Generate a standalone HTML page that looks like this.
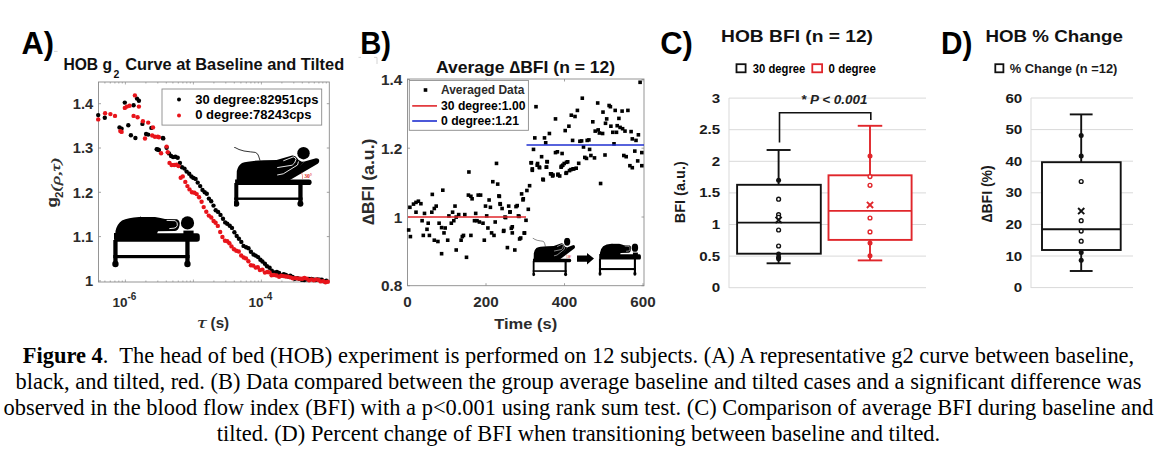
<!DOCTYPE html>
<html><head><meta charset="utf-8"><title>Figure 4</title>
<style>
html,body{margin:0;padding:0;background:#fff;}
body{width:1165px;height:451px;position:relative;overflow:hidden;font-family:"Liberation Sans",sans-serif;}
.cap{position:absolute;left:0;width:1157px;text-align:center;font-family:"Liberation Serif",serif;font-size:22.44px;line-height:26px;white-space:nowrap;color:#000;}
</style></head><body>
<svg width="1165" height="340" viewBox="0 0 1165 340" style="position:absolute;left:0;top:0;font-family:'Liberation Sans',sans-serif"><defs>
<symbol id="flat" viewBox="0 0 88 52" preserveAspectRatio="none">
 <path d="M3,23 L3.5,15 Q5,8 10,4.5 Q16,1.5 27,0.9 L43,0.9 Q49,2 53,3 L65,3.3 Q68.5,5 67.5,9.5 Q66.5,14.5 63,15 L46,15.3 L45,17.5 L3,23 Z" fill="#000"/>
 <path d="M54.6,4.4 L63.3,4.7 Q66,6.5 65.3,9.5 Q64.5,12 62,12.2 L57.3,12.6" fill="none" stroke="#fff" stroke-width="0.9"/>
 <circle cx="75.5" cy="6.9" r="6.6" fill="#000"/>
 <rect x="71.4" y="14.6" width="10.2" height="4" fill="#000"/>
 <path d="M2,17 L44.8,17 L45.5,17.2 L85,17.2 Q87.8,17.2 87.8,20.5 L87.8,23 Q87.8,25.7 85,25.7 L4,25.7 Q2,25.7 2,23 Z" fill="#000"/>
 <rect x="1.3" y="24" width="4.3" height="24" fill="#000"/>
 <rect x="73.3" y="24" width="4.3" height="24" fill="#000"/>
 <rect x="1.3" y="39" width="76.3" height="3.2" fill="#000"/>
 <circle cx="3.45" cy="48" r="3.2" fill="#000"/>
 <circle cx="75.45" cy="48" r="3.2" fill="#000"/>
 <path d="M26,-3 L28.5,0.5" stroke="#000" stroke-width="0.7"/>
</symbol>
<symbol id="tilt" viewBox="0 0 86 60" preserveAspectRatio="none">
 <path d="M0,0 Q5,3 10,4 Q17,5 21.3,5.4 Q24,6.5 24.6,9 L26,13.5" fill="none" stroke="#000" stroke-width="0.8"/>
 <path d="M2.6,33.5 L2.8,24 Q4,18.5 8,16 Q14,13.8 29.8,13.3 L42.6,12.9 L58.2,8.5 Q61.5,8.2 63,11 Q64,13.5 67.9,14.7 L70.4,14.6 L54.8,32.8 L44,33.5 Z" fill="#000"/>
 <path d="M49.3,13.8 L59.3,9.9 Q62,10.5 62,12.5 Q61,16.5 58.2,18.2 L43.2,20.6" fill="none" stroke="#fff" stroke-width="0.9"/>
 <path d="M43.2,28 L49.3,26.8 L63.5,18 L64.5,14.5" fill="none" stroke="#fff" stroke-width="0.9"/>
 <circle cx="69.5" cy="6.2" r="6.2" fill="#000"/>
 <path d="M52,33 L70.4,14.6 L82,11.3 Q85.5,11.5 85.2,14.3 Q85,16 83.7,16.8 L56,33 Z" fill="#000"/>
 <path d="M1.1,32.6 L54.8,32.6 L75,32.6 Q77.6,32.6 77.6,35.2 Q77.6,38 75,38 L3,38 Q1.1,38 1.1,35.5 Z" fill="#000"/>
 <rect x="0.3" y="36" width="4" height="21" fill="#000"/>
 <rect x="64.3" y="36" width="4.3" height="21" fill="#000"/>
 <rect x="0.3" y="50.5" width="68.3" height="2.4" fill="#000"/>
 <circle cx="2.3" cy="56.8" r="3" fill="#000"/>
 <circle cx="66.4" cy="56.8" r="3" fill="#000"/>
 <path d="M67.5,25.5 Q69,28.5 68.5,32" fill="none" stroke="#d33" stroke-width="0.5"/>
 <text x="70.2" y="31" font-size="5.6" fill="#d22" style="font-family:'Liberation Serif',serif;font-weight:bold">30°</text>
</symbol></defs><text x="21.6" y="54" font-size="31.8" font-weight="bold" fill="#000" textLength="32.4" lengthAdjust="spacingAndGlyphs">A)</text><text x="360.2" y="54" font-size="31.8" font-weight="bold" fill="#000" textLength="30.8" lengthAdjust="spacingAndGlyphs">B)</text><text x="660.2" y="54" font-size="31.8" font-weight="bold" fill="#000" textLength="32.6" lengthAdjust="spacingAndGlyphs">C)</text><text x="941.0" y="54" font-size="31.8" font-weight="bold" fill="#000" textLength="31.4" lengthAdjust="spacingAndGlyphs">D)</text><path d="M54,51.4 L57.6,51.4 M358.5,57.4 L361,57.4 M374,57.4 L377,57.4 L377,64" fill="none" stroke="#c8c8c8" stroke-width="0.8"/><rect x="98.5" y="82" width="230.8" height="200" fill="none" stroke="#8a8a8a" stroke-width="0.9"/><line x1="98.5" y1="103.7" x2="101.0" y2="103.7" stroke="#8a8a8a" stroke-width="0.8"/><line x1="329.3" y1="103.7" x2="326.8" y2="103.7" stroke="#8a8a8a" stroke-width="0.8"/><text x="93.2" y="108.9" text-anchor="end" font-size="14.7" font-weight="bold" fill="#2b2b2b">1.4</text><line x1="98.5" y1="148.0" x2="101.0" y2="148.0" stroke="#8a8a8a" stroke-width="0.8"/><line x1="329.3" y1="148.0" x2="326.8" y2="148.0" stroke="#8a8a8a" stroke-width="0.8"/><text x="93.2" y="153.2" text-anchor="end" font-size="14.7" font-weight="bold" fill="#2b2b2b">1.3</text><line x1="98.5" y1="192.3" x2="101.0" y2="192.3" stroke="#8a8a8a" stroke-width="0.8"/><line x1="329.3" y1="192.3" x2="326.8" y2="192.3" stroke="#8a8a8a" stroke-width="0.8"/><text x="93.2" y="197.5" text-anchor="end" font-size="14.7" font-weight="bold" fill="#2b2b2b">1.2</text><line x1="98.5" y1="236.6" x2="101.0" y2="236.6" stroke="#8a8a8a" stroke-width="0.8"/><line x1="329.3" y1="236.6" x2="326.8" y2="236.6" stroke="#8a8a8a" stroke-width="0.8"/><text x="93.2" y="241.8" text-anchor="end" font-size="14.7" font-weight="bold" fill="#2b2b2b">1.1</text><line x1="98.5" y1="280.9" x2="101.0" y2="280.9" stroke="#8a8a8a" stroke-width="0.8"/><line x1="329.3" y1="280.9" x2="326.8" y2="280.9" stroke="#8a8a8a" stroke-width="0.8"/><text x="93.2" y="286.1" text-anchor="end" font-size="14.7" font-weight="bold" fill="#2b2b2b">1</text><line x1="104.9" y1="282" x2="104.9" y2="280.5" stroke="#8a8a8a" stroke-width="0.7"/><line x1="104.9" y1="82" x2="104.9" y2="83.5" stroke="#8a8a8a" stroke-width="0.7"/><line x1="110.3" y1="282" x2="110.3" y2="280.5" stroke="#8a8a8a" stroke-width="0.7"/><line x1="110.3" y1="82" x2="110.3" y2="83.5" stroke="#8a8a8a" stroke-width="0.7"/><line x1="114.9" y1="282" x2="114.9" y2="280.5" stroke="#8a8a8a" stroke-width="0.7"/><line x1="114.9" y1="82" x2="114.9" y2="83.5" stroke="#8a8a8a" stroke-width="0.7"/><line x1="118.8" y1="282" x2="118.8" y2="280.5" stroke="#8a8a8a" stroke-width="0.7"/><line x1="118.8" y1="82" x2="118.8" y2="83.5" stroke="#8a8a8a" stroke-width="0.7"/><line x1="122.3" y1="282" x2="122.3" y2="280.5" stroke="#8a8a8a" stroke-width="0.7"/><line x1="122.3" y1="82" x2="122.3" y2="83.5" stroke="#8a8a8a" stroke-width="0.7"/><line x1="125.4" y1="282" x2="125.4" y2="279.5" stroke="#8a8a8a" stroke-width="0.7"/><line x1="125.4" y1="82" x2="125.4" y2="84.5" stroke="#8a8a8a" stroke-width="0.7"/><line x1="145.9" y1="282" x2="145.9" y2="280.5" stroke="#8a8a8a" stroke-width="0.7"/><line x1="145.9" y1="82" x2="145.9" y2="83.5" stroke="#8a8a8a" stroke-width="0.7"/><line x1="157.8" y1="282" x2="157.8" y2="280.5" stroke="#8a8a8a" stroke-width="0.7"/><line x1="157.8" y1="82" x2="157.8" y2="83.5" stroke="#8a8a8a" stroke-width="0.7"/><line x1="166.3" y1="282" x2="166.3" y2="280.5" stroke="#8a8a8a" stroke-width="0.7"/><line x1="166.3" y1="82" x2="166.3" y2="83.5" stroke="#8a8a8a" stroke-width="0.7"/><line x1="172.9" y1="282" x2="172.9" y2="280.5" stroke="#8a8a8a" stroke-width="0.7"/><line x1="172.9" y1="82" x2="172.9" y2="83.5" stroke="#8a8a8a" stroke-width="0.7"/><line x1="178.3" y1="282" x2="178.3" y2="280.5" stroke="#8a8a8a" stroke-width="0.7"/><line x1="178.3" y1="82" x2="178.3" y2="83.5" stroke="#8a8a8a" stroke-width="0.7"/><line x1="182.9" y1="282" x2="182.9" y2="280.5" stroke="#8a8a8a" stroke-width="0.7"/><line x1="182.9" y1="82" x2="182.9" y2="83.5" stroke="#8a8a8a" stroke-width="0.7"/><line x1="186.8" y1="282" x2="186.8" y2="280.5" stroke="#8a8a8a" stroke-width="0.7"/><line x1="186.8" y1="82" x2="186.8" y2="83.5" stroke="#8a8a8a" stroke-width="0.7"/><line x1="190.3" y1="282" x2="190.3" y2="280.5" stroke="#8a8a8a" stroke-width="0.7"/><line x1="190.3" y1="82" x2="190.3" y2="83.5" stroke="#8a8a8a" stroke-width="0.7"/><line x1="193.4" y1="282" x2="193.4" y2="279.5" stroke="#8a8a8a" stroke-width="0.7"/><line x1="193.4" y1="82" x2="193.4" y2="84.5" stroke="#8a8a8a" stroke-width="0.7"/><line x1="213.9" y1="282" x2="213.9" y2="280.5" stroke="#8a8a8a" stroke-width="0.7"/><line x1="213.9" y1="82" x2="213.9" y2="83.5" stroke="#8a8a8a" stroke-width="0.7"/><line x1="225.8" y1="282" x2="225.8" y2="280.5" stroke="#8a8a8a" stroke-width="0.7"/><line x1="225.8" y1="82" x2="225.8" y2="83.5" stroke="#8a8a8a" stroke-width="0.7"/><line x1="234.3" y1="282" x2="234.3" y2="280.5" stroke="#8a8a8a" stroke-width="0.7"/><line x1="234.3" y1="82" x2="234.3" y2="83.5" stroke="#8a8a8a" stroke-width="0.7"/><line x1="240.9" y1="282" x2="240.9" y2="280.5" stroke="#8a8a8a" stroke-width="0.7"/><line x1="240.9" y1="82" x2="240.9" y2="83.5" stroke="#8a8a8a" stroke-width="0.7"/><line x1="246.3" y1="282" x2="246.3" y2="280.5" stroke="#8a8a8a" stroke-width="0.7"/><line x1="246.3" y1="82" x2="246.3" y2="83.5" stroke="#8a8a8a" stroke-width="0.7"/><line x1="250.9" y1="282" x2="250.9" y2="280.5" stroke="#8a8a8a" stroke-width="0.7"/><line x1="250.9" y1="82" x2="250.9" y2="83.5" stroke="#8a8a8a" stroke-width="0.7"/><line x1="254.8" y1="282" x2="254.8" y2="280.5" stroke="#8a8a8a" stroke-width="0.7"/><line x1="254.8" y1="82" x2="254.8" y2="83.5" stroke="#8a8a8a" stroke-width="0.7"/><line x1="258.3" y1="282" x2="258.3" y2="280.5" stroke="#8a8a8a" stroke-width="0.7"/><line x1="258.3" y1="82" x2="258.3" y2="83.5" stroke="#8a8a8a" stroke-width="0.7"/><line x1="261.4" y1="282" x2="261.4" y2="279.5" stroke="#8a8a8a" stroke-width="0.7"/><line x1="261.4" y1="82" x2="261.4" y2="84.5" stroke="#8a8a8a" stroke-width="0.7"/><line x1="281.9" y1="282" x2="281.9" y2="280.5" stroke="#8a8a8a" stroke-width="0.7"/><line x1="281.9" y1="82" x2="281.9" y2="83.5" stroke="#8a8a8a" stroke-width="0.7"/><line x1="293.8" y1="282" x2="293.8" y2="280.5" stroke="#8a8a8a" stroke-width="0.7"/><line x1="293.8" y1="82" x2="293.8" y2="83.5" stroke="#8a8a8a" stroke-width="0.7"/><line x1="302.3" y1="282" x2="302.3" y2="280.5" stroke="#8a8a8a" stroke-width="0.7"/><line x1="302.3" y1="82" x2="302.3" y2="83.5" stroke="#8a8a8a" stroke-width="0.7"/><line x1="308.9" y1="282" x2="308.9" y2="280.5" stroke="#8a8a8a" stroke-width="0.7"/><line x1="308.9" y1="82" x2="308.9" y2="83.5" stroke="#8a8a8a" stroke-width="0.7"/><line x1="314.3" y1="282" x2="314.3" y2="280.5" stroke="#8a8a8a" stroke-width="0.7"/><line x1="314.3" y1="82" x2="314.3" y2="83.5" stroke="#8a8a8a" stroke-width="0.7"/><line x1="318.9" y1="282" x2="318.9" y2="280.5" stroke="#8a8a8a" stroke-width="0.7"/><line x1="318.9" y1="82" x2="318.9" y2="83.5" stroke="#8a8a8a" stroke-width="0.7"/><line x1="322.8" y1="282" x2="322.8" y2="280.5" stroke="#8a8a8a" stroke-width="0.7"/><line x1="322.8" y1="82" x2="322.8" y2="83.5" stroke="#8a8a8a" stroke-width="0.7"/><line x1="326.3" y1="282" x2="326.3" y2="280.5" stroke="#8a8a8a" stroke-width="0.7"/><line x1="326.3" y1="82" x2="326.3" y2="83.5" stroke="#8a8a8a" stroke-width="0.7"/><text x="112.4" y="306.5" font-size="13.5" font-weight="bold" fill="#2b2b2b">10<tspan dy="-6.5" font-size="10">-6</tspan></text><text x="248.4" y="306.5" font-size="13.5" font-weight="bold" fill="#2b2b2b">10<tspan dy="-6.5" font-size="10">-4</tspan></text><text x="197.2" y="328" font-size="17" font-style="italic" fill="#2b2b2b" style="font-family:'Liberation Serif',serif" textLength="9.2" lengthAdjust="spacingAndGlyphs">τ</text><text x="210.6" y="328" font-size="15.3" font-weight="bold" fill="#2b2b2b" textLength="18.6" lengthAdjust="spacingAndGlyphs">(s)</text><text transform="translate(57,207.6) rotate(-90)" font-size="15" font-weight="bold" fill="#2b2b2b" textLength="10.4" lengthAdjust="spacingAndGlyphs">g</text><text transform="translate(62.6,198) rotate(-90)" font-size="11.5" font-weight="bold" fill="#2b2b2b">2</text><text transform="translate(59.6,191.4) rotate(-90)" font-size="13.5" font-style="italic" fill="#2b2b2b" stroke="#2b2b2b" stroke-width="0.35" style="font-family:'Liberation Serif',serif" textLength="33.2" lengthAdjust="spacingAndGlyphs">(ρ,τ)</text><text x="63.4" y="69.6" font-size="16" font-weight="bold" fill="#111" textLength="48.6" lengthAdjust="spacingAndGlyphs">HOB g</text><text x="113.4" y="77.6" font-size="10.5" font-weight="bold" fill="#111">2</text><text x="125.2" y="69.6" font-size="16" font-weight="bold" fill="#111" textLength="219" lengthAdjust="spacingAndGlyphs">Curve at Baseline and Tilted</text><circle cx="98.2" cy="115.1" r="2.2" fill="#000"/><circle cx="104.8" cy="117.8" r="2.2" fill="#000"/><circle cx="119.5" cy="127.4" r="2.2" fill="#000"/><circle cx="121.6" cy="128.7" r="2.2" fill="#000"/><circle cx="124.8" cy="102.6" r="2.2" fill="#000"/><circle cx="128.3" cy="125.2" r="2.2" fill="#000"/><circle cx="130.9" cy="135.3" r="2.2" fill="#000"/><circle cx="133.6" cy="105.3" r="2.2" fill="#000"/><circle cx="135.4" cy="138.0" r="2.2" fill="#000"/><circle cx="137.0" cy="98.6" r="2.2" fill="#000"/><circle cx="138.9" cy="100.8" r="2.2" fill="#000"/><circle cx="142.4" cy="123.9" r="2.2" fill="#000"/><circle cx="146.1" cy="134.0" r="2.2" fill="#000"/><circle cx="148.2" cy="134.6" r="2.2" fill="#000"/><circle cx="151.4" cy="127.9" r="2.2" fill="#000"/><circle cx="156.7" cy="149.2" r="2.2" fill="#000"/><circle cx="158.9" cy="150.0" r="2.2" fill="#000"/><circle cx="162.9" cy="138.0" r="2.2" fill="#000"/><circle cx="163.3" cy="138.4" r="2.2" fill="#000"/><circle cx="157.8" cy="149.5" r="2.2" fill="#000"/><circle cx="166.6" cy="147.7" r="2.2" fill="#000"/><circle cx="169.0" cy="153.4" r="2.2" fill="#000"/><circle cx="171.1" cy="156.0" r="2.2" fill="#000"/><circle cx="173.1" cy="157.1" r="2.2" fill="#000"/><circle cx="175.4" cy="156.8" r="2.2" fill="#000"/><circle cx="177.7" cy="157.7" r="2.2" fill="#000"/><circle cx="179.9" cy="163.0" r="2.2" fill="#000"/><circle cx="182.0" cy="167.2" r="2.2" fill="#000"/><circle cx="184.5" cy="168.6" r="2.2" fill="#000"/><circle cx="186.6" cy="171.6" r="2.2" fill="#000"/><circle cx="189.2" cy="173.7" r="2.2" fill="#000"/><circle cx="191.4" cy="176.5" r="2.2" fill="#000"/><circle cx="193.4" cy="177.9" r="2.2" fill="#000"/><circle cx="195.6" cy="178.9" r="2.2" fill="#000"/><circle cx="197.7" cy="182.6" r="2.2" fill="#000"/><circle cx="200.2" cy="186.1" r="2.2" fill="#000"/><circle cx="202.5" cy="189.9" r="2.2" fill="#000"/><circle cx="204.7" cy="192.3" r="2.2" fill="#000"/><circle cx="206.8" cy="193.7" r="2.2" fill="#000"/><circle cx="208.9" cy="198.6" r="2.2" fill="#000"/><circle cx="211.2" cy="201.3" r="2.2" fill="#000"/><circle cx="213.5" cy="205.6" r="2.2" fill="#000"/><circle cx="215.7" cy="210.2" r="2.2" fill="#000"/><circle cx="218.1" cy="211.9" r="2.2" fill="#000"/><circle cx="220.5" cy="214.9" r="2.2" fill="#000"/><circle cx="223.0" cy="218.7" r="2.2" fill="#000"/><circle cx="225.2" cy="222.4" r="2.2" fill="#000"/><circle cx="227.2" cy="223.7" r="2.2" fill="#000"/><circle cx="229.7" cy="225.7" r="2.2" fill="#000"/><circle cx="232.0" cy="227.9" r="2.2" fill="#000"/><circle cx="234.4" cy="232.3" r="2.2" fill="#000"/><circle cx="236.7" cy="235.9" r="2.2" fill="#000"/><circle cx="238.9" cy="238.7" r="2.2" fill="#000"/><circle cx="241.3" cy="241.9" r="2.2" fill="#000"/><circle cx="243.5" cy="245.9" r="2.2" fill="#000"/><circle cx="246.1" cy="247.2" r="2.2" fill="#000"/><circle cx="248.5" cy="248.2" r="2.2" fill="#000"/><circle cx="250.9" cy="251.7" r="2.2" fill="#000"/><circle cx="253.5" cy="254.5" r="2.2" fill="#000"/><circle cx="255.7" cy="255.6" r="2.2" fill="#000"/><circle cx="258.1" cy="257.1" r="2.2" fill="#000"/><circle cx="260.4" cy="259.8" r="2.2" fill="#000"/><circle cx="262.4" cy="261.5" r="2.2" fill="#000"/><circle cx="264.9" cy="263.8" r="2.2" fill="#000"/><circle cx="267.0" cy="266.3" r="2.2" fill="#000"/><circle cx="269.6" cy="267.7" r="2.2" fill="#000"/><circle cx="271.8" cy="270.7" r="2.2" fill="#000"/><circle cx="274.4" cy="272.5" r="2.2" fill="#000"/><circle cx="276.9" cy="272.0" r="2.2" fill="#000"/><circle cx="279.1" cy="273.0" r="2.2" fill="#000"/><circle cx="281.7" cy="275.2" r="2.2" fill="#000"/><circle cx="283.8" cy="274.1" r="2.2" fill="#000"/><circle cx="285.9" cy="274.9" r="2.2" fill="#000"/><circle cx="288.2" cy="276.5" r="2.2" fill="#000"/><circle cx="290.3" cy="275.7" r="2.2" fill="#000"/><circle cx="292.6" cy="277.0" r="2.2" fill="#000"/><circle cx="294.9" cy="278.8" r="2.2" fill="#000"/><circle cx="297.4" cy="278.1" r="2.2" fill="#000"/><circle cx="299.7" cy="278.9" r="2.2" fill="#000"/><circle cx="301.8" cy="279.8" r="2.2" fill="#000"/><circle cx="304.2" cy="280.1" r="2.2" fill="#000"/><circle cx="306.7" cy="279.4" r="2.2" fill="#000"/><circle cx="308.9" cy="278.9" r="2.2" fill="#000"/><circle cx="311.3" cy="279.0" r="2.2" fill="#000"/><circle cx="313.4" cy="279.5" r="2.2" fill="#000"/><circle cx="315.5" cy="280.0" r="2.2" fill="#000"/><circle cx="317.5" cy="279.4" r="2.2" fill="#000"/><circle cx="319.6" cy="279.8" r="2.2" fill="#000"/><circle cx="321.8" cy="279.8" r="2.2" fill="#000"/><circle cx="324.3" cy="281.4" r="2.2" fill="#000"/><circle cx="326.4" cy="280.7" r="2.2" fill="#000"/><circle cx="98.2" cy="119.4" r="2.2" fill="#e8141b"/><circle cx="105.1" cy="113.3" r="2.2" fill="#e8141b"/><circle cx="110.4" cy="114.1" r="2.2" fill="#e8141b"/><circle cx="115.0" cy="115.9" r="2.2" fill="#e8141b"/><circle cx="120.3" cy="131.1" r="2.2" fill="#e8141b"/><circle cx="121.6" cy="131.9" r="2.2" fill="#e8141b"/><circle cx="124.8" cy="107.9" r="2.2" fill="#e8141b"/><circle cx="126.9" cy="106.6" r="2.2" fill="#e8141b"/><circle cx="129.6" cy="105.8" r="2.2" fill="#e8141b"/><circle cx="134.9" cy="95.4" r="2.2" fill="#e8141b"/><circle cx="138.9" cy="106.6" r="2.2" fill="#e8141b"/><circle cx="133.6" cy="115.9" r="2.2" fill="#e8141b"/><circle cx="137.6" cy="117.3" r="2.2" fill="#e8141b"/><circle cx="142.9" cy="121.2" r="2.2" fill="#e8141b"/><circle cx="148.2" cy="122.6" r="2.2" fill="#e8141b"/><circle cx="145.0" cy="138.5" r="2.2" fill="#e8141b"/><circle cx="153.0" cy="127.4" r="2.2" fill="#e8141b"/><circle cx="154.9" cy="136.7" r="2.2" fill="#e8141b"/><circle cx="158.9" cy="137.2" r="2.2" fill="#e8141b"/><circle cx="152.2" cy="135.5" r="2.2" fill="#e8141b"/><circle cx="157.8" cy="136.7" r="2.2" fill="#e8141b"/><circle cx="161.1" cy="153.3" r="2.2" fill="#e8141b"/><circle cx="166.6" cy="146.6" r="2.2" fill="#e8141b"/><circle cx="167.7" cy="152.2" r="2.2" fill="#e8141b"/><circle cx="169.5" cy="162.9" r="2.2" fill="#e8141b"/><circle cx="171.6" cy="165.0" r="2.2" fill="#e8141b"/><circle cx="174.2" cy="165.0" r="2.2" fill="#e8141b"/><circle cx="176.5" cy="164.8" r="2.2" fill="#e8141b"/><circle cx="178.5" cy="166.1" r="2.2" fill="#e8141b"/><circle cx="180.7" cy="177.8" r="2.2" fill="#e8141b"/><circle cx="182.8" cy="176.4" r="2.2" fill="#e8141b"/><circle cx="185.3" cy="181.9" r="2.2" fill="#e8141b"/><circle cx="187.4" cy="186.1" r="2.2" fill="#e8141b"/><circle cx="189.5" cy="189.4" r="2.2" fill="#e8141b"/><circle cx="192.0" cy="192.3" r="2.2" fill="#e8141b"/><circle cx="194.5" cy="192.7" r="2.2" fill="#e8141b"/><circle cx="196.7" cy="194.1" r="2.2" fill="#e8141b"/><circle cx="199.1" cy="197.3" r="2.2" fill="#e8141b"/><circle cx="201.6" cy="201.8" r="2.2" fill="#e8141b"/><circle cx="203.7" cy="207.1" r="2.2" fill="#e8141b"/><circle cx="206.3" cy="211.7" r="2.2" fill="#e8141b"/><circle cx="208.8" cy="215.6" r="2.2" fill="#e8141b"/><circle cx="211.3" cy="217.5" r="2.2" fill="#e8141b"/><circle cx="213.6" cy="221.0" r="2.2" fill="#e8141b"/><circle cx="215.6" cy="222.7" r="2.2" fill="#e8141b"/><circle cx="217.8" cy="225.9" r="2.2" fill="#e8141b"/><circle cx="220.2" cy="232.0" r="2.2" fill="#e8141b"/><circle cx="222.4" cy="237.0" r="2.2" fill="#e8141b"/><circle cx="225.0" cy="240.7" r="2.2" fill="#e8141b"/><circle cx="227.3" cy="241.2" r="2.2" fill="#e8141b"/><circle cx="229.4" cy="243.3" r="2.2" fill="#e8141b"/><circle cx="231.5" cy="246.4" r="2.2" fill="#e8141b"/><circle cx="234.0" cy="249.2" r="2.2" fill="#e8141b"/><circle cx="236.3" cy="250.7" r="2.2" fill="#e8141b"/><circle cx="238.8" cy="251.5" r="2.2" fill="#e8141b"/><circle cx="241.2" cy="255.5" r="2.2" fill="#e8141b"/><circle cx="243.7" cy="257.5" r="2.2" fill="#e8141b"/><circle cx="246.0" cy="258.4" r="2.2" fill="#e8141b"/><circle cx="248.4" cy="261.2" r="2.2" fill="#e8141b"/><circle cx="250.9" cy="265.3" r="2.2" fill="#e8141b"/><circle cx="253.2" cy="265.6" r="2.2" fill="#e8141b"/><circle cx="255.7" cy="267.6" r="2.2" fill="#e8141b"/><circle cx="257.8" cy="267.2" r="2.2" fill="#e8141b"/><circle cx="259.9" cy="270.1" r="2.2" fill="#e8141b"/><circle cx="262.4" cy="269.6" r="2.2" fill="#e8141b"/><circle cx="264.9" cy="272.6" r="2.2" fill="#e8141b"/><circle cx="267.3" cy="272.0" r="2.2" fill="#e8141b"/><circle cx="269.6" cy="272.4" r="2.2" fill="#e8141b"/><circle cx="271.6" cy="275.2" r="2.2" fill="#e8141b"/><circle cx="274.0" cy="275.0" r="2.2" fill="#e8141b"/><circle cx="276.6" cy="275.5" r="2.2" fill="#e8141b"/><circle cx="279.1" cy="276.8" r="2.2" fill="#e8141b"/><circle cx="281.2" cy="275.8" r="2.2" fill="#e8141b"/><circle cx="283.4" cy="276.1" r="2.2" fill="#e8141b"/><circle cx="285.8" cy="276.5" r="2.2" fill="#e8141b"/><circle cx="288.0" cy="276.6" r="2.2" fill="#e8141b"/><circle cx="290.6" cy="277.4" r="2.2" fill="#e8141b"/><circle cx="292.8" cy="278.2" r="2.2" fill="#e8141b"/><circle cx="295.4" cy="278.1" r="2.2" fill="#e8141b"/><circle cx="297.9" cy="278.5" r="2.2" fill="#e8141b"/><circle cx="300.2" cy="278.8" r="2.2" fill="#e8141b"/><circle cx="302.3" cy="278.8" r="2.2" fill="#e8141b"/><circle cx="304.4" cy="278.0" r="2.2" fill="#e8141b"/><circle cx="306.8" cy="278.6" r="2.2" fill="#e8141b"/><circle cx="309.1" cy="280.2" r="2.2" fill="#e8141b"/><circle cx="311.5" cy="279.4" r="2.2" fill="#e8141b"/><circle cx="313.8" cy="280.2" r="2.2" fill="#e8141b"/><circle cx="316.2" cy="279.4" r="2.2" fill="#e8141b"/><circle cx="318.6" cy="280.0" r="2.2" fill="#e8141b"/><circle cx="320.7" cy="281.4" r="2.2" fill="#e8141b"/><circle cx="323.1" cy="281.1" r="2.2" fill="#e8141b"/><circle cx="325.5" cy="282.2" r="2.2" fill="#e8141b"/><circle cx="327.8" cy="281.7" r="2.2" fill="#e8141b"/><use href="#flat" x="112" y="216" width="88" height="52"/><use href="#tilt" x="234" y="147" width="86" height="60"/><rect x="162" y="89" width="159.7" height="36.1" fill="#fff" stroke="#8a8a8a" stroke-width="0.9"/><circle cx="179" cy="99.5" r="2" fill="#000"/><circle cx="179" cy="115.5" r="2" fill="#e8141b"/><text x="195.2" y="104" font-size="13" font-weight="bold" fill="#000" textLength="123.3" lengthAdjust="spacingAndGlyphs">30 degree:82951cps</text><text x="195.2" y="119.4" font-size="13" font-weight="bold" fill="#000">0 degree:78243cps</text><rect x="407.5" y="79" width="236.5" height="206.7" fill="none" stroke="#8a8a8a" stroke-width="0.9"/><line x1="407.5" y1="79.5" x2="410.0" y2="79.5" stroke="#8a8a8a" stroke-width="0.8"/><line x1="644" y1="79.5" x2="641.5" y2="79.5" stroke="#8a8a8a" stroke-width="0.8"/><text x="402.4" y="85.1" text-anchor="end" font-size="15.4" font-weight="bold" fill="#2b2b2b">1.4</text><line x1="407.5" y1="148.2" x2="410.0" y2="148.2" stroke="#8a8a8a" stroke-width="0.8"/><line x1="644" y1="148.2" x2="641.5" y2="148.2" stroke="#8a8a8a" stroke-width="0.8"/><text x="402.4" y="153.8" text-anchor="end" font-size="15.4" font-weight="bold" fill="#2b2b2b">1.2</text><line x1="407.5" y1="217.0" x2="410.0" y2="217.0" stroke="#8a8a8a" stroke-width="0.8"/><line x1="644" y1="217.0" x2="641.5" y2="217.0" stroke="#8a8a8a" stroke-width="0.8"/><text x="402.4" y="222.6" text-anchor="end" font-size="15.4" font-weight="bold" fill="#2b2b2b">1</text><line x1="407.5" y1="285.7" x2="410.0" y2="285.7" stroke="#8a8a8a" stroke-width="0.8"/><line x1="644" y1="285.7" x2="641.5" y2="285.7" stroke="#8a8a8a" stroke-width="0.8"/><text x="402.4" y="291.3" text-anchor="end" font-size="15.4" font-weight="bold" fill="#2b2b2b">0.8</text><line x1="407.5" y1="285.7" x2="407.5" y2="283.2" stroke="#8a8a8a" stroke-width="0.8"/><line x1="407.5" y1="79" x2="407.5" y2="81.5" stroke="#8a8a8a" stroke-width="0.8"/><text x="407.5" y="307" text-anchor="middle" font-size="15.2" font-weight="bold" fill="#2b2b2b">0</text><line x1="486.0" y1="285.7" x2="486.0" y2="283.2" stroke="#8a8a8a" stroke-width="0.8"/><line x1="486.0" y1="79" x2="486.0" y2="81.5" stroke="#8a8a8a" stroke-width="0.8"/><text x="486.0" y="307" text-anchor="middle" font-size="15.2" font-weight="bold" fill="#2b2b2b">200</text><line x1="564.5" y1="285.7" x2="564.5" y2="283.2" stroke="#8a8a8a" stroke-width="0.8"/><line x1="564.5" y1="79" x2="564.5" y2="81.5" stroke="#8a8a8a" stroke-width="0.8"/><text x="564.5" y="307" text-anchor="middle" font-size="15.2" font-weight="bold" fill="#2b2b2b">400</text><line x1="643.0" y1="285.7" x2="643.0" y2="283.2" stroke="#8a8a8a" stroke-width="0.8"/><line x1="643.0" y1="79" x2="643.0" y2="81.5" stroke="#8a8a8a" stroke-width="0.8"/><text x="643.0" y="307" text-anchor="middle" font-size="15.2" font-weight="bold" fill="#2b2b2b">600</text><rect x="406.9" y="228.2" width="3.6" height="3.6" fill="#000"/><rect x="408.6" y="234.8" width="3.6" height="3.6" fill="#000"/><rect x="408.1" y="205.5" width="3.6" height="3.6" fill="#000"/><rect x="411.7" y="202.3" width="3.6" height="3.6" fill="#000"/><rect x="414.2" y="200.6" width="3.6" height="3.6" fill="#000"/><rect x="416.6" y="199.4" width="3.6" height="3.6" fill="#000"/><rect x="419.1" y="201.9" width="3.6" height="3.6" fill="#000"/><rect x="414.2" y="210.4" width="3.6" height="3.6" fill="#000"/><rect x="420.3" y="218.9" width="3.6" height="3.6" fill="#000"/><rect x="422.7" y="211.6" width="3.6" height="3.6" fill="#000"/><rect x="421.5" y="233.6" width="3.6" height="3.6" fill="#000"/><rect x="425.2" y="227.5" width="3.6" height="3.6" fill="#000"/><rect x="427.6" y="233.6" width="3.6" height="3.6" fill="#000"/><rect x="426.4" y="221.4" width="3.6" height="3.6" fill="#000"/><rect x="430.0" y="210.4" width="3.6" height="3.6" fill="#000"/><rect x="430.5" y="192.6" width="3.6" height="3.6" fill="#000"/><rect x="432.5" y="206.7" width="3.6" height="3.6" fill="#000"/><rect x="434.4" y="204.3" width="3.6" height="3.6" fill="#000"/><rect x="432.5" y="238.4" width="3.6" height="3.6" fill="#000"/><rect x="436.1" y="239.7" width="3.6" height="3.6" fill="#000"/><rect x="437.3" y="221.4" width="3.6" height="3.6" fill="#000"/><rect x="439.8" y="225.8" width="3.6" height="3.6" fill="#000"/><rect x="441.0" y="188.4" width="3.6" height="3.6" fill="#000"/><rect x="442.2" y="231.1" width="3.6" height="3.6" fill="#000"/><rect x="439.8" y="251.9" width="3.6" height="3.6" fill="#000"/><rect x="443.4" y="226.2" width="3.6" height="3.6" fill="#000"/><rect x="445.9" y="238.4" width="3.6" height="3.6" fill="#000"/><rect x="447.1" y="214.1" width="3.6" height="3.6" fill="#000"/><rect x="449.5" y="221.4" width="3.6" height="3.6" fill="#000"/><rect x="450.8" y="210.4" width="3.6" height="3.6" fill="#000"/><rect x="453.2" y="204.3" width="3.6" height="3.6" fill="#000"/><rect x="454.4" y="215.3" width="3.6" height="3.6" fill="#000"/><rect x="452.0" y="218.9" width="3.6" height="3.6" fill="#000"/><rect x="454.4" y="248.2" width="3.6" height="3.6" fill="#000"/><rect x="456.9" y="212.8" width="3.6" height="3.6" fill="#000"/><rect x="459.3" y="238.4" width="3.6" height="3.6" fill="#000"/><rect x="460.5" y="234.8" width="3.6" height="3.6" fill="#000"/><rect x="461.7" y="233.6" width="3.6" height="3.6" fill="#000"/><rect x="463.0" y="212.8" width="3.6" height="3.6" fill="#000"/><rect x="464.7" y="255.5" width="3.6" height="3.6" fill="#000"/><rect x="467.1" y="170.2" width="3.6" height="3.6" fill="#000"/><rect x="466.6" y="193.3" width="3.6" height="3.6" fill="#000"/><rect x="469.1" y="194.5" width="3.6" height="3.6" fill="#000"/><rect x="470.3" y="197.0" width="3.6" height="3.6" fill="#000"/><rect x="469.1" y="233.6" width="3.6" height="3.6" fill="#000"/><rect x="473.9" y="211.6" width="3.6" height="3.6" fill="#000"/><rect x="472.7" y="218.9" width="3.6" height="3.6" fill="#000"/><rect x="475.2" y="218.9" width="3.6" height="3.6" fill="#000"/><rect x="476.4" y="193.3" width="3.6" height="3.6" fill="#000"/><rect x="478.8" y="193.3" width="3.6" height="3.6" fill="#000"/><rect x="477.6" y="220.2" width="3.6" height="3.6" fill="#000"/><rect x="481.2" y="221.4" width="3.6" height="3.6" fill="#000"/><rect x="483.7" y="204.3" width="3.6" height="3.6" fill="#000"/><rect x="484.9" y="214.1" width="3.6" height="3.6" fill="#000"/><rect x="487.3" y="198.2" width="3.6" height="3.6" fill="#000"/><rect x="488.6" y="205.5" width="3.6" height="3.6" fill="#000"/><rect x="486.1" y="226.2" width="3.6" height="3.6" fill="#000"/><rect x="482.5" y="238.4" width="3.6" height="3.6" fill="#000"/><rect x="489.8" y="231.1" width="3.6" height="3.6" fill="#000"/><rect x="491.0" y="179.9" width="3.6" height="3.6" fill="#000"/><rect x="494.7" y="161.6" width="3.6" height="3.6" fill="#000"/><rect x="495.9" y="182.3" width="3.6" height="3.6" fill="#000"/><rect x="493.4" y="220.2" width="3.6" height="3.6" fill="#000"/><rect x="492.2" y="233.6" width="3.6" height="3.6" fill="#000"/><rect x="497.1" y="194.1" width="3.6" height="3.6" fill="#000"/><rect x="498.3" y="201.9" width="3.6" height="3.6" fill="#000"/><rect x="500.3" y="206.7" width="3.6" height="3.6" fill="#000"/><rect x="502.0" y="228.7" width="3.6" height="3.6" fill="#000"/><rect x="503.2" y="215.3" width="3.6" height="3.6" fill="#000"/><rect x="505.6" y="245.8" width="3.6" height="3.6" fill="#000"/><rect x="506.9" y="204.3" width="3.6" height="3.6" fill="#000"/><rect x="508.1" y="210.4" width="3.6" height="3.6" fill="#000"/><rect x="510.5" y="225.0" width="3.6" height="3.6" fill="#000"/><rect x="510.5" y="231.1" width="3.6" height="3.6" fill="#000"/><rect x="513.0" y="248.2" width="3.6" height="3.6" fill="#000"/><rect x="514.2" y="204.8" width="3.6" height="3.6" fill="#000"/><rect x="515.4" y="203.8" width="3.6" height="3.6" fill="#000"/><rect x="516.6" y="214.1" width="3.6" height="3.6" fill="#000"/><rect x="517.8" y="237.2" width="3.6" height="3.6" fill="#000"/><rect x="519.8" y="192.1" width="3.6" height="3.6" fill="#000"/><rect x="521.5" y="197.0" width="3.6" height="3.6" fill="#000"/><rect x="522.7" y="231.1" width="3.6" height="3.6" fill="#000"/><rect x="497.6" y="194.6" width="3.6" height="3.6" fill="#000"/><rect x="498.5" y="202.5" width="3.6" height="3.6" fill="#000"/><rect x="508.3" y="210.0" width="3.6" height="3.6" fill="#000"/><rect x="521.2" y="198.1" width="3.6" height="3.6" fill="#000"/><rect x="525.1" y="188.7" width="3.6" height="3.6" fill="#000"/><rect x="527.8" y="183.9" width="3.6" height="3.6" fill="#000"/><rect x="526.5" y="207.5" width="3.6" height="3.6" fill="#000"/><rect x="503.8" y="215.8" width="3.6" height="3.6" fill="#000"/><rect x="517.2" y="214.6" width="3.6" height="3.6" fill="#000"/><rect x="524.2" y="218.5" width="3.6" height="3.6" fill="#000"/><rect x="509.5" y="226.5" width="3.6" height="3.6" fill="#000"/><rect x="501.7" y="229.5" width="3.6" height="3.6" fill="#000"/><rect x="522.5" y="231.3" width="3.6" height="3.6" fill="#000"/><rect x="518.9" y="236.2" width="3.6" height="3.6" fill="#000"/><rect x="529.6" y="160.9" width="3.6" height="3.6" fill="#000"/><rect x="530.5" y="168.5" width="3.6" height="3.6" fill="#000"/><rect x="535.8" y="161.7" width="3.6" height="3.6" fill="#000"/><rect x="537.5" y="165.3" width="3.6" height="3.6" fill="#000"/><rect x="545.5" y="160.0" width="3.6" height="3.6" fill="#000"/><rect x="544.6" y="165.3" width="3.6" height="3.6" fill="#000"/><rect x="541.1" y="177.4" width="3.6" height="3.6" fill="#000"/><rect x="549.6" y="172.0" width="3.6" height="3.6" fill="#000"/><rect x="550.8" y="174.2" width="3.6" height="3.6" fill="#000"/><rect x="556.2" y="172.4" width="3.6" height="3.6" fill="#000"/><rect x="557.9" y="174.2" width="3.6" height="3.6" fill="#000"/><rect x="559.7" y="164.4" width="3.6" height="3.6" fill="#000"/><rect x="562.4" y="161.7" width="3.6" height="3.6" fill="#000"/><rect x="565.9" y="160.0" width="3.6" height="3.6" fill="#000"/><rect x="564.2" y="171.5" width="3.6" height="3.6" fill="#000"/><rect x="567.7" y="168.8" width="3.6" height="3.6" fill="#000"/><rect x="571.2" y="167.1" width="3.6" height="3.6" fill="#000"/><rect x="638.3" y="80.5" width="3.6" height="3.6" fill="#000"/><rect x="534.2" y="104.9" width="3.6" height="3.6" fill="#000"/><rect x="580.5" y="96.4" width="3.6" height="3.6" fill="#000"/><rect x="595.9" y="101.2" width="3.6" height="3.6" fill="#000"/><rect x="607.3" y="103.7" width="3.6" height="3.6" fill="#000"/><rect x="608.6" y="104.9" width="3.6" height="3.6" fill="#000"/><rect x="613.4" y="108.6" width="3.6" height="3.6" fill="#000"/><rect x="620.3" y="109.3" width="3.6" height="3.6" fill="#000"/><rect x="626.1" y="108.6" width="3.6" height="3.6" fill="#000"/><rect x="575.6" y="108.6" width="3.6" height="3.6" fill="#000"/><rect x="569.5" y="113.4" width="3.6" height="3.6" fill="#000"/><rect x="573.2" y="114.7" width="3.6" height="3.6" fill="#000"/><rect x="601.2" y="110.3" width="3.6" height="3.6" fill="#000"/><rect x="553.7" y="117.1" width="3.6" height="3.6" fill="#000"/><rect x="604.9" y="117.1" width="3.6" height="3.6" fill="#000"/><rect x="617.1" y="116.6" width="3.6" height="3.6" fill="#000"/><rect x="591.0" y="120.0" width="3.6" height="3.6" fill="#000"/><rect x="603.7" y="121.5" width="3.6" height="3.6" fill="#000"/><rect x="567.1" y="124.4" width="3.6" height="3.6" fill="#000"/><rect x="609.1" y="124.4" width="3.6" height="3.6" fill="#000"/><rect x="615.4" y="123.9" width="3.6" height="3.6" fill="#000"/><rect x="618.3" y="125.6" width="3.6" height="3.6" fill="#000"/><rect x="620.8" y="126.9" width="3.6" height="3.6" fill="#000"/><rect x="623.2" y="129.3" width="3.6" height="3.6" fill="#000"/><rect x="563.4" y="128.8" width="3.6" height="3.6" fill="#000"/><rect x="593.4" y="129.3" width="3.6" height="3.6" fill="#000"/><rect x="596.4" y="128.1" width="3.6" height="3.6" fill="#000"/><rect x="597.6" y="131.2" width="3.6" height="3.6" fill="#000"/><rect x="600.8" y="131.7" width="3.6" height="3.6" fill="#000"/><rect x="611.0" y="130.5" width="3.6" height="3.6" fill="#000"/><rect x="614.7" y="130.5" width="3.6" height="3.6" fill="#000"/><rect x="629.3" y="129.8" width="3.6" height="3.6" fill="#000"/><rect x="547.6" y="131.7" width="3.6" height="3.6" fill="#000"/><rect x="636.6" y="133.0" width="3.6" height="3.6" fill="#000"/><rect x="533.0" y="136.1" width="3.6" height="3.6" fill="#000"/><rect x="542.7" y="136.1" width="3.6" height="3.6" fill="#000"/><rect x="543.9" y="141.0" width="3.6" height="3.6" fill="#000"/><rect x="570.8" y="138.6" width="3.6" height="3.6" fill="#000"/><rect x="578.1" y="139.5" width="3.6" height="3.6" fill="#000"/><rect x="579.8" y="139.1" width="3.6" height="3.6" fill="#000"/><rect x="585.4" y="138.6" width="3.6" height="3.6" fill="#000"/><rect x="587.1" y="138.1" width="3.6" height="3.6" fill="#000"/><rect x="630.5" y="137.1" width="3.6" height="3.6" fill="#000"/><rect x="634.2" y="138.6" width="3.6" height="3.6" fill="#000"/><rect x="612.2" y="142.0" width="3.6" height="3.6" fill="#000"/><rect x="581.7" y="145.2" width="3.6" height="3.6" fill="#000"/><rect x="531.7" y="147.6" width="3.6" height="3.6" fill="#000"/><rect x="587.8" y="147.6" width="3.6" height="3.6" fill="#000"/><rect x="633.0" y="149.3" width="3.6" height="3.6" fill="#000"/><rect x="640.0" y="150.8" width="3.6" height="3.6" fill="#000"/><rect x="553.7" y="150.8" width="3.6" height="3.6" fill="#000"/><rect x="555.6" y="150.0" width="3.6" height="3.6" fill="#000"/><rect x="560.3" y="151.7" width="3.6" height="3.6" fill="#000"/><rect x="539.8" y="154.9" width="3.6" height="3.6" fill="#000"/><rect x="603.2" y="153.2" width="3.6" height="3.6" fill="#000"/><rect x="583.0" y="155.6" width="3.6" height="3.6" fill="#000"/><rect x="584.7" y="156.6" width="3.6" height="3.6" fill="#000"/><rect x="589.1" y="153.7" width="3.6" height="3.6" fill="#000"/><rect x="592.7" y="156.1" width="3.6" height="3.6" fill="#000"/><rect x="622.0" y="153.7" width="3.6" height="3.6" fill="#000"/><rect x="624.4" y="154.9" width="3.6" height="3.6" fill="#000"/><rect x="635.9" y="159.1" width="3.6" height="3.6" fill="#000"/><rect x="529.3" y="161.0" width="3.6" height="3.6" fill="#000"/><rect x="535.4" y="163.4" width="3.6" height="3.6" fill="#000"/><rect x="537.8" y="165.9" width="3.6" height="3.6" fill="#000"/><rect x="545.2" y="159.8" width="3.6" height="3.6" fill="#000"/><rect x="544.7" y="165.4" width="3.6" height="3.6" fill="#000"/><rect x="530.5" y="167.1" width="3.6" height="3.6" fill="#000"/><rect x="561.0" y="163.4" width="3.6" height="3.6" fill="#000"/><rect x="559.3" y="165.4" width="3.6" height="3.6" fill="#000"/><rect x="564.7" y="160.5" width="3.6" height="3.6" fill="#000"/><rect x="576.9" y="161.5" width="3.6" height="3.6" fill="#000"/><rect x="569.1" y="167.8" width="3.6" height="3.6" fill="#000"/><rect x="572.0" y="167.1" width="3.6" height="3.6" fill="#000"/><rect x="574.4" y="166.4" width="3.6" height="3.6" fill="#000"/><rect x="564.7" y="170.8" width="3.6" height="3.6" fill="#000"/><rect x="548.8" y="172.0" width="3.6" height="3.6" fill="#000"/><rect x="551.2" y="173.2" width="3.6" height="3.6" fill="#000"/><rect x="556.1" y="173.2" width="3.6" height="3.6" fill="#000"/><rect x="628.1" y="163.9" width="3.6" height="3.6" fill="#000"/><rect x="630.5" y="165.9" width="3.6" height="3.6" fill="#000"/><rect x="640.0" y="163.9" width="3.6" height="3.6" fill="#000"/><rect x="541.5" y="178.1" width="3.6" height="3.6" fill="#000"/><rect x="598.8" y="181.7" width="3.6" height="3.6" fill="#000"/><line x1="408.0" y1="217" x2="526" y2="217" stroke="#e0262b" stroke-width="1.6"/><line x1="526.5" y1="145" x2="644" y2="145" stroke="#1f2fd0" stroke-width="1.6"/><rect x="409.3" y="80.4" width="119.1" height="49.9" fill="#fff" stroke="#8a8a8a" stroke-width="0.9"/><rect x="423.7" y="88.2" width="3.6" height="3.6" fill="#000"/><text x="441" y="94.3" font-size="12" font-weight="bold" fill="#2b2b2b" textLength="83.4" lengthAdjust="spacingAndGlyphs">Averaged Data</text><line x1="412.2" y1="105.9" x2="437" y2="105.9" stroke="#e0262b" stroke-width="1.6"/><text x="441" y="110.3" font-size="12.2" font-weight="bold" fill="#000" textLength="84.4" lengthAdjust="spacingAndGlyphs">30 degree:1.00</text><line x1="412.2" y1="121" x2="437" y2="121" stroke="#1f2fd0" stroke-width="1.6"/><text x="441" y="125.4" font-size="12.2" font-weight="bold" fill="#000">0 degree:1.21</text><text x="436" y="73" font-size="17" font-weight="bold" fill="#111" textLength="179.2" lengthAdjust="spacingAndGlyphs">Average ∆BFI (n = 12)</text><text x="494.2" y="328.6" font-size="15.5" font-weight="bold" fill="#2b2b2b" textLength="63" lengthAdjust="spacingAndGlyphs">Time (s)</text><text transform="translate(374.2,225.1) rotate(-90)" font-size="16.5" font-weight="bold" fill="#2b2b2b" textLength="86.6" lengthAdjust="spacingAndGlyphs">∆BFI (a.u.)</text><use href="#tilt" x="532.4" y="237.8" width="43" height="38.6"/><path d="M577,255.5 L587,255.5 L587,253 L594,258.6 L587,264.4 L587,261.7 L577,261.7 Z" fill="#000"/><use href="#flat" x="598.3" y="243.3" width="42.7" height="33"/><line x1="729" y1="98.1" x2="926" y2="98.1" stroke="#d9d9d9" stroke-width="1"/><text transform="translate(720.2,102.6) scale(1.2,1)" text-anchor="end" font-size="12.6" font-weight="bold" fill="#1a1a1a">3</text><line x1="729" y1="129.7" x2="926" y2="129.7" stroke="#d9d9d9" stroke-width="1"/><text transform="translate(720.2,134.2) scale(1.2,1)" text-anchor="end" font-size="12.6" font-weight="bold" fill="#1a1a1a">2.5</text><line x1="729" y1="161.3" x2="926" y2="161.3" stroke="#d9d9d9" stroke-width="1"/><text transform="translate(720.2,165.8) scale(1.2,1)" text-anchor="end" font-size="12.6" font-weight="bold" fill="#1a1a1a">2</text><line x1="729" y1="192.9" x2="926" y2="192.9" stroke="#d9d9d9" stroke-width="1"/><text transform="translate(720.2,197.4) scale(1.2,1)" text-anchor="end" font-size="12.6" font-weight="bold" fill="#1a1a1a">1.5</text><line x1="729" y1="224.5" x2="926" y2="224.5" stroke="#d9d9d9" stroke-width="1"/><text transform="translate(720.2,229.0) scale(1.2,1)" text-anchor="end" font-size="12.6" font-weight="bold" fill="#1a1a1a">1</text><line x1="729" y1="256.1" x2="926" y2="256.1" stroke="#d9d9d9" stroke-width="1"/><text transform="translate(720.2,260.6) scale(1.2,1)" text-anchor="end" font-size="12.6" font-weight="bold" fill="#1a1a1a">0.5</text><line x1="729" y1="287.7" x2="926" y2="287.7" stroke="#d9d9d9" stroke-width="1"/><text transform="translate(720.2,292.2) scale(1.2,1)" text-anchor="end" font-size="12.6" font-weight="bold" fill="#1a1a1a">0</text><line x1="729" y1="98" x2="729" y2="288" stroke="#d9d9d9" stroke-width="1"/><line x1="778.6" y1="150" x2="778.6" y2="184.8" stroke="#111" stroke-width="1.9"/><line x1="778.6" y1="253.7" x2="778.6" y2="263.3" stroke="#111" stroke-width="1.9"/><line x1="766.6" y1="150" x2="790.6" y2="150" stroke="#111" stroke-width="1.9"/><line x1="766.6" y1="263.3" x2="790.6" y2="263.3" stroke="#111" stroke-width="1.9"/><rect x="737.1" y="184.8" width="83.69999999999993" height="68.89999999999998" fill="#fff" stroke="#111" stroke-width="1.9"/><line x1="737.1" y1="222.6" x2="820.8" y2="222.6" stroke="#111" stroke-width="1.9"/><circle cx="778.6" cy="180.3" r="2.5" fill="#111"/><circle cx="778.6" cy="254" r="2.5" fill="#111"/><circle cx="778.6" cy="257.2" r="2.5" fill="#111"/><circle cx="778.6" cy="258.8" r="2.5" fill="#111"/><circle cx="778.6" cy="199.2" r="1.9" fill="#fff" stroke="#111" stroke-width="1.4"/><circle cx="778.6" cy="214.6" r="1.9" fill="#fff" stroke="#111" stroke-width="1.4"/><circle cx="778.6" cy="217.3" r="1.9" fill="#fff" stroke="#111" stroke-width="1.4"/><circle cx="778.6" cy="230" r="1.9" fill="#fff" stroke="#111" stroke-width="1.4"/><circle cx="778.6" cy="246" r="1.9" fill="#fff" stroke="#111" stroke-width="1.4"/><path d="M775.5,216.9 L781.7,223.1 M781.7,216.9 L775.5,223.1" stroke="#111" stroke-width="1.9"/><line x1="870" y1="125.8" x2="870" y2="175.3" stroke="#e0262b" stroke-width="1.9"/><line x1="870" y1="239.9" x2="870" y2="260.4" stroke="#e0262b" stroke-width="1.9"/><line x1="857.75" y1="125.8" x2="882.25" y2="125.8" stroke="#e0262b" stroke-width="1.9"/><line x1="857.75" y1="260.4" x2="882.25" y2="260.4" stroke="#e0262b" stroke-width="1.9"/><rect x="828.5" y="175.3" width="83.10000000000002" height="64.6" fill="#fff" stroke="#e0262b" stroke-width="1.9"/><line x1="828.5" y1="210.9" x2="911.6" y2="210.9" stroke="#e0262b" stroke-width="1.9"/><circle cx="870" cy="155.9" r="2.5" fill="#e0262b"/><circle cx="870" cy="243.1" r="2.5" fill="#e0262b"/><circle cx="870" cy="255.8" r="2.5" fill="#e0262b"/><circle cx="870" cy="176.6" r="1.9" fill="#fff" stroke="#e0262b" stroke-width="1.4"/><circle cx="870" cy="185.3" r="1.9" fill="#fff" stroke="#e0262b" stroke-width="1.4"/><circle cx="870" cy="218" r="1.9" fill="#fff" stroke="#e0262b" stroke-width="1.4"/><circle cx="870" cy="231.9" r="1.9" fill="#fff" stroke="#e0262b" stroke-width="1.4"/><path d="M866.9,201.8 L873.1,208.0 M873.1,201.8 L866.9,208.0" stroke="#e0262b" stroke-width="1.9"/><path d="M779.5,142.5 L779.5,112.7 L870.8,112.7 L870.8,120" fill="none" stroke="#111" stroke-width="1.6"/><text x="801" y="104.2" font-size="12" font-weight="bold" font-style="italic" fill="#222" textLength="66.4" lengthAdjust="spacingAndGlyphs">* P &lt; 0.001</text><rect x="736.5" y="64.2" width="9.1" height="8.1" fill="none" stroke="#111" stroke-width="1.8"/><text x="752.8" y="72.5" font-size="12.3" font-weight="bold" fill="#000" textLength="52.5" lengthAdjust="spacingAndGlyphs">30 degree</text><rect x="812.3" y="64.2" width="9.8" height="8.1" fill="none" stroke="#e0262b" stroke-width="1.8"/><text x="828.6" y="72.5" font-size="12.3" font-weight="bold" fill="#000" textLength="47.2" lengthAdjust="spacingAndGlyphs">0 degree</text><text x="721.1" y="41.7" font-size="16.5" font-weight="bold" fill="#111" textLength="151.9" lengthAdjust="spacingAndGlyphs">HOB BFI (n = 12)</text><text transform="translate(684.6,223.3) rotate(-90)" font-size="15.3" font-weight="bold" fill="#1a1a1a" textLength="62.1" lengthAdjust="spacingAndGlyphs">BFI (a.u.)</text><line x1="1031" y1="98.0" x2="1133" y2="98.0" stroke="#d9d9d9" stroke-width="1"/><text transform="translate(1022.2,102.5) scale(1.2,1)" text-anchor="end" font-size="12.6" font-weight="bold" fill="#1a1a1a">60</text><line x1="1031" y1="129.6" x2="1133" y2="129.6" stroke="#d9d9d9" stroke-width="1"/><text transform="translate(1022.2,134.1) scale(1.2,1)" text-anchor="end" font-size="12.6" font-weight="bold" fill="#1a1a1a">50</text><line x1="1031" y1="161.2" x2="1133" y2="161.2" stroke="#d9d9d9" stroke-width="1"/><text transform="translate(1022.2,165.7) scale(1.2,1)" text-anchor="end" font-size="12.6" font-weight="bold" fill="#1a1a1a">40</text><line x1="1031" y1="192.8" x2="1133" y2="192.8" stroke="#d9d9d9" stroke-width="1"/><text transform="translate(1022.2,197.3) scale(1.2,1)" text-anchor="end" font-size="12.6" font-weight="bold" fill="#1a1a1a">30</text><line x1="1031" y1="224.4" x2="1133" y2="224.4" stroke="#d9d9d9" stroke-width="1"/><text transform="translate(1022.2,228.9) scale(1.2,1)" text-anchor="end" font-size="12.6" font-weight="bold" fill="#1a1a1a">20</text><line x1="1031" y1="256.0" x2="1133" y2="256.0" stroke="#d9d9d9" stroke-width="1"/><text transform="translate(1022.2,260.5) scale(1.2,1)" text-anchor="end" font-size="12.6" font-weight="bold" fill="#1a1a1a">10</text><line x1="1031" y1="287.6" x2="1133" y2="287.6" stroke="#d9d9d9" stroke-width="1"/><text transform="translate(1022.2,292.1) scale(1.2,1)" text-anchor="end" font-size="12.6" font-weight="bold" fill="#1a1a1a">0</text><line x1="1031" y1="98" x2="1031" y2="288" stroke="#d9d9d9" stroke-width="1"/><line x1="1081.2" y1="114.4" x2="1081.2" y2="162.2" stroke="#111" stroke-width="1.9"/><line x1="1081.2" y1="250" x2="1081.2" y2="271" stroke="#111" stroke-width="1.9"/><line x1="1069.8" y1="114.4" x2="1092.6000000000001" y2="114.4" stroke="#111" stroke-width="1.9"/><line x1="1069.8" y1="271" x2="1092.6000000000001" y2="271" stroke="#111" stroke-width="1.9"/><rect x="1042" y="162.2" width="78.70000000000005" height="87.80000000000001" fill="#fff" stroke="#111" stroke-width="1.9"/><line x1="1042" y1="229.2" x2="1120.7" y2="229.2" stroke="#111" stroke-width="1.9"/><circle cx="1081.2" cy="135.4" r="2.5" fill="#111"/><circle cx="1081.2" cy="155.9" r="2.5" fill="#111"/><circle cx="1081.2" cy="252.4" r="2.5" fill="#111"/><circle cx="1081.2" cy="260.3" r="2.5" fill="#111"/><circle cx="1081.2" cy="181.5" r="1.9" fill="#fff" stroke="#111" stroke-width="1.4"/><circle cx="1081.2" cy="220.7" r="1.9" fill="#fff" stroke="#111" stroke-width="1.4"/><circle cx="1081.2" cy="231.1" r="1.9" fill="#fff" stroke="#111" stroke-width="1.4"/><circle cx="1081.2" cy="241.2" r="1.9" fill="#fff" stroke="#111" stroke-width="1.4"/><path d="M1078.1000000000001,208.0 L1084.3,214.2 M1084.3,208.0 L1078.1000000000001,214.2" stroke="#111" stroke-width="1.9"/><rect x="995.3" y="64.2" width="8.1" height="8.1" fill="none" stroke="#111" stroke-width="1.8"/><text x="1009.8" y="72.8" font-size="12.5" font-weight="bold" fill="#1a1a1a" textLength="107.6" lengthAdjust="spacingAndGlyphs">% Change (n =12)</text><text x="985.4" y="42.2" font-size="16.5" font-weight="bold" fill="#111" textLength="137.5" lengthAdjust="spacingAndGlyphs">HOB % Change</text><text transform="translate(992.2,222.2) rotate(-90)" font-size="15" font-weight="bold" fill="#1a1a1a" textLength="57" lengthAdjust="spacingAndGlyphs">∆BFI (%)</text></svg>

<div class="cap" style="top:343.1px"><b>Figure 4</b>.&nbsp; The head of bed (HOB) experiment is performed on 12 subjects. (A) A representative g2 curve between baseline,</div>
<div class="cap" style="top:368.9px">black, and tilted, red. (B) Data compared between the group average baseline and tilted cases and a significant difference was</div>
<div class="cap" style="top:394.8px">observed in the blood flow index (BFI) with a p&lt;0.001 using rank sum test. (C) Comparison of average BFI during baseline and</div>
<div class="cap" style="top:420.7px">tilted. (D) Percent change of BFI when transitioning between baseline and tilted.</div>

</body></html>
